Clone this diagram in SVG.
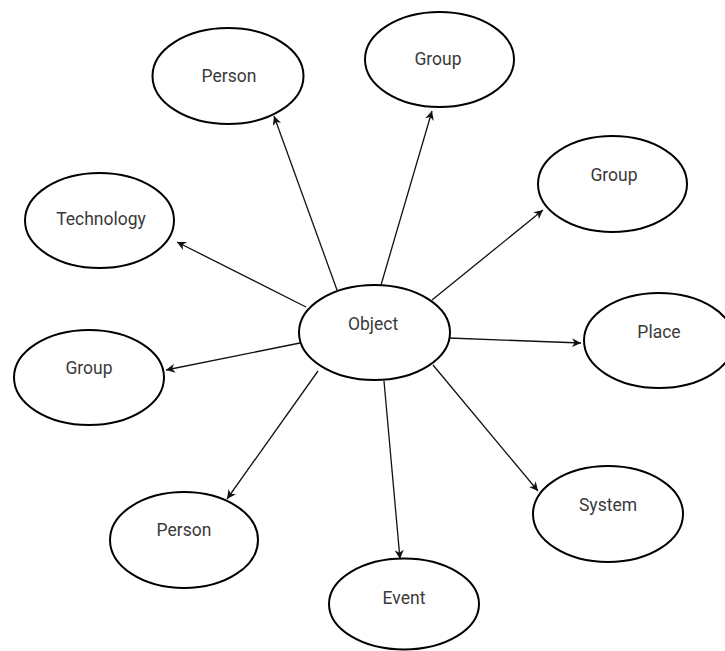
<svg xmlns="http://www.w3.org/2000/svg" width="725" height="651" viewBox="0 0 725 651">
<style>
.node ellipse{fill:#fff;stroke:#000;stroke-width:2}
.node text{font-family:Roboto,"Liberation Sans",sans-serif;font-size:17.5px;fill:#3a3a3a;text-anchor:middle;dominant-baseline:middle}
#edges line{stroke:#111;stroke-width:1.3;marker-end:url(#ah)}
</style>
<defs>
<marker id="ah" viewBox="0 0 10 10" refX="10" refY="5" markerWidth="9" markerHeight="9" markerUnits="userSpaceOnUse" orient="auto">
<path d="M0,0 L10,5 L0,10 L3,5 Z" fill="#111"/>
</marker>
</defs>
<rect width="725" height="651" fill="#fff"/>
<g id="edges">
<line x1="337" y1="290" x2="274" y2="116"/>
<line x1="306" y1="307" x2="177" y2="242"/>
<line x1="381" y1="285" x2="432" y2="111"/>
<line x1="432" y1="300" x2="543" y2="210"/>
<line x1="449" y1="338" x2="581" y2="343"/>
<line x1="300" y1="343" x2="166" y2="370"/>
<line x1="318" y1="371" x2="227" y2="499"/>
<line x1="433" y1="365" x2="538" y2="491"/>
<line x1="384" y1="381" x2="400" y2="559"/>
</g>
<g id="object" class="node"><ellipse cx="374.5" cy="332.5" rx="75.5" ry="47.5"/><text x="373" y="325">Object</text></g>
<g id="person-top" class="node"><ellipse cx="228" cy="76" rx="75.5" ry="48"/><text x="229" y="77">Person</text></g>
<g id="group-top" class="node"><ellipse cx="439.5" cy="59.5" rx="74.5" ry="47.5"/><text x="438" y="60">Group</text></g>
<g id="group-right" class="node"><ellipse cx="612.5" cy="184" rx="74.5" ry="48"/><text x="614" y="176">Group</text></g>
<g id="technology" class="node"><ellipse cx="99.5" cy="220.5" rx="74.5" ry="47.5"/><text x="101" y="220">Technology</text></g>
<g id="place" class="node"><ellipse cx="659" cy="340.5" rx="75" ry="47.5"/><text x="659" y="333">Place</text></g>
<g id="group-left" class="node"><ellipse cx="89" cy="377.5" rx="75" ry="47.5"/><text x="89" y="369">Group</text></g>
<g id="system" class="node"><ellipse cx="608" cy="514" rx="75" ry="48"/><text x="608" y="506">System</text></g>
<g id="person-bottom" class="node"><ellipse cx="184" cy="540" rx="74" ry="48"/><text x="184" y="531">Person</text></g>
<g id="event" class="node"><ellipse cx="404" cy="604" rx="75" ry="45.5"/><text x="404" y="599">Event</text></g>
</svg>
